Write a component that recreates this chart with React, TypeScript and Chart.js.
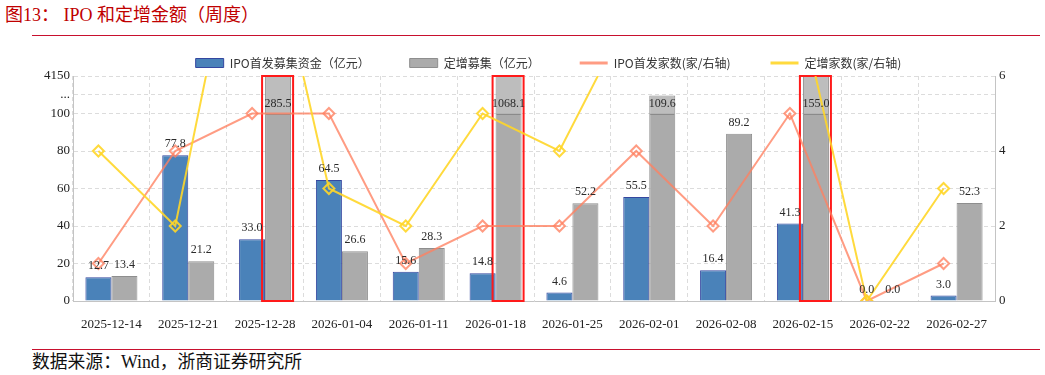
import React, { useEffect, useRef } from 'react';
import { Chart, registerables } from 'chart.js';

Chart.register(...registerables);

// ---- data ----
const CATEGORIES = [
  '2025-12-14', '2025-12-21', '2025-12-28', '2026-01-04', '2026-01-11', '2026-01-18',
  '2026-01-25', '2026-02-01', '2026-02-08', '2026-02-15', '2026-02-22', '2026-02-27',
];
const IPO_AMOUNT = [12.7, 77.8, 33.0, 64.5, 15.6, 14.8, 4.6, 55.5, 16.4, 41.3, 0.0, 3.0];
const PLACEMENT_AMOUNT = [13.4, 21.2, 285.5, 26.6, 28.3, 1068.1, 52.2, 109.6, 89.2, 155.0, 0.0, 52.3];
const IPO_COUNT = [1, 4, 5, 5, 1, 2, 2, 4, 2, 5, 0, 1];
const PLACEMENT_COUNT = [4, 2, 12, 3, 2, 5, 4, 8, 8, 9, 0, 3];
const LEFT_TICK_VALUES = [0, 20, 40, 60, 80, 100, 110, 120];
const LEFT_TICK_LABELS = ['0', '20', '40', '60', '80', '100', '...', '4150'];
const RIGHT_MAX = 6;
const RIGHT_STEP = 2;
const BREAK_VALUE = 100;
const AXIS_TOP = 120;

const SERIES_LABELS = ['IPO首发募集资金（亿元）', '定增募集（亿元）', 'IPO首发家数(家/右轴)', '定增家数(家/右轴)'];

// ---- style ----
const CATEGORY_PCT = 0.677;
const LINE_SHIFT = CATEGORY_PCT / 4;
const SERIF = '"Liberation Serif", "Times New Roman", serif';
const CJK = '"Noto Sans CJK SC", "Noto Sans", sans-serif';
const BLUE = '#4a82b9';
const BLUE_BORDER = '#3447a0';
const GRAY = '#ababab';
const GRAY_BORDER = '#8e8e8e';
const ORANGE = 'rgba(255,128,96,0.78)';
const YELLOW = 'rgba(255,214,40,0.9)';
const GRID = '#dcdcdc';
const AXIS = '#c4c4c4';
const LEGEND_PAD = 40;

const legendTweak = {
  id: 'legendTweak',
  beforeLayout(chart: any) {
    const lg = chart.legend;
    if (!lg || lg._tweaked) return;
    lg._tweaked = true;
    const fit = lg.fit.bind(lg);
    lg.fit = function () {
      fit();
      lg.height = 59;
    };
  },
};

const breakOverlay = {
  id: 'breakOverlay',
  afterDatasetDraw(chart: any, args: any) {
    if (args.index !== 0) return;
    const ctx = chart.ctx;
    const area = chart.chartArea;
    const y = chart.scales.y;
    const meta = chart.getDatasetMeta(1);
    const vals = PLACEMENT_AMOUNT;
    const yBreak = y.getPixelForValue(BREAK_VALUE);
    ctx.save();
    meta.data.forEach((bar: any, i: number) => {
      const v = vals[i];
      if (v <= BREAK_VALUE) return;
      const w = bar.width;
      const top = Math.max(bar.y, area.top);
      ctx.fillStyle = 'rgba(255,255,255,0.22)';
      ctx.fillRect(bar.x - w / 2 + 1, top + 1, w - 2, yBreak - top - 1);
      ctx.strokeStyle = '#8a8a8a';
      ctx.lineWidth = 1;
      ctx.beginPath();
      ctx.moveTo(bar.x - w / 2 + 1, Math.round(yBreak) + 0.5);
      ctx.lineTo(bar.x + w / 2 - 1, Math.round(yBreak) + 0.5);
      ctx.stroke();
      if (v > AXIS_TOP) {
        ctx.strokeStyle = '#ff1a1a';
        ctx.lineWidth = 2;
        ctx.strokeRect(bar.x - w / 2 - 3, area.top, w + 5, area.bottom - area.top);
      }
    });
    ctx.restore();
  },
};

const barLabels = {
  id: 'barLabels',
  afterDatasetsDraw(chart: any) {
    const ctx = chart.ctx;
    const y = chart.scales.y;
    ctx.save();
    ctx.font = '12px ' + SERIF;
    ctx.fillStyle = '#2a2a2a';
    ctx.textAlign = 'center';
    ctx.textBaseline = 'middle';
    [IPO_AMOUNT, PLACEMENT_AMOUNT].forEach((vals, di) => {
      const meta = chart.getDatasetMeta(di);
      meta.data.forEach((bar: any, i: number) => {
        const v = vals[i];
        const ty = v > BREAK_VALUE ? y.getPixelForValue(BREAK_VALUE) - 10 : bar.y - 11;
        ctx.fillText(v.toFixed(1), bar.x, ty);
      });
    });
    ctx.restore();
  },
};

export default function App() {
  const ref = useRef<HTMLCanvasElement | null>(null);

  useEffect(() => {
    if (!ref.current) return;
    const chart = new Chart(ref.current, {
      type: 'bar',
      data: {
        labels: CATEGORIES,
        datasets: [
          {
            type: 'bar',
            label: SERIES_LABELS[0],
            data: IPO_AMOUNT.map((v, i) => ({ x: i, y: v })),
            backgroundColor: BLUE,
            borderColor: BLUE_BORDER,
            borderWidth: 1,
            categoryPercentage: CATEGORY_PCT,
            barPercentage: 1,
            clip: 0,
            order: 2,
            xAxisID: 'xl',
            yAxisID: 'y',
          } as any,
          {
            type: 'bar',
            label: SERIES_LABELS[1],
            data: PLACEMENT_AMOUNT.map((v, i) => ({ x: i, y: v })),
            backgroundColor: GRAY,
            borderColor: GRAY_BORDER,
            borderWidth: 1,
            categoryPercentage: CATEGORY_PCT,
            barPercentage: 1,
            clip: 0,
            order: 3,
            xAxisID: 'xl',
            yAxisID: 'y',
          } as any,
          {
            type: 'line',
            label: SERIES_LABELS[2],
            data: IPO_COUNT.map((v, i) => ({ x: i - LINE_SHIFT, y: v })),
            xAxisID: 'xl',
            yAxisID: 'y1',
            borderColor: ORANGE,
            borderWidth: 2,
            pointStyle: 'rectRot',
            pointRadius: 5.5,
            pointBorderWidth: 2,
            pointBorderColor: ORANGE,
            pointBackgroundColor: 'rgba(255,255,255,0)',
            tension: 0,
            order: 1,
          } as any,
          {
            type: 'line',
            label: SERIES_LABELS[3],
            data: PLACEMENT_COUNT.map((v, i) => ({ x: i - LINE_SHIFT, y: v })),
            xAxisID: 'xl',
            yAxisID: 'y1',
            borderColor: YELLOW,
            borderWidth: 2,
            pointStyle: 'rectRot',
            pointRadius: 5.5,
            pointBorderWidth: 2,
            pointBorderColor: YELLOW,
            pointBackgroundColor: 'rgba(255,255,255,0)',
            tension: 0,
            order: 0,
          } as any,
        ],
      },
      options: {
        responsive: false,
        maintainAspectRatio: false,
        animation: false,
        layout: { padding: 0 },
        plugins: {
          tooltip: { enabled: false },
          legend: {
            display: true,
            position: 'top',
            align: 'center',
            labels: {
              usePointStyle: true,
              pointStyleWidth: 28,
              boxHeight: 9,
              padding: LEGEND_PAD,
              color: '#333',
              font: { family: CJK, size: 12 },
              generateLabels(c: any) {
                const items = (Chart.defaults.plugins.legend.labels as any).generateLabels(c);
                items.sort((a: any, b: any) => a.datasetIndex - b.datasetIndex);
                items.forEach((it: any) => {
                  const ds = c.data.datasets[it.datasetIndex];
                  if (ds.type === 'line') {
                    it.pointStyle = 'line';
                    it.strokeStyle = ds.borderColor;
                    it.lineWidth = 3;
                  } else {
                    it.pointStyle = 'rect';
                    it.lineWidth = 1;
                  }
                });
                return items;
              },
            },
          },
        },
        scales: {
          x: {
            type: 'category',
            offset: true,
            grid: { display: true, offset: true, color: GRID, drawTicks: false, lineWidth: 1 },
            border: { display: true, color: AXIS, dash: [4, 3] },
            ticks: {
              font: { family: SERIF, size: 13 },
              color: '#222',
              padding: 16,
              maxRotation: 0,
              autoSkip: false,
            },
            afterFit(s: any) {
              s.height = 46;
            },
          },
          xl: {
            type: 'linear',
            axis: 'x',
            display: false,
            offset: false,
            grid: { offset: false },
            min: -0.5,
            max: CATEGORIES.length - 0.5,
            afterBuildTicks(s: any) {
              s.ticks = CATEGORIES.map((_c, i) => ({ value: i }));
            },
          },
          y: {
            position: 'left',
            min: 0,
            max: AXIS_TOP,
            afterBuildTicks(s: any) {
              s.ticks = LEFT_TICK_VALUES.map((v) => ({ value: v }));
            },
            ticks: {
              callback: (_v: any, i: number) => LEFT_TICK_LABELS[i],
              padding: 3,
              font: { family: SERIF, size: 13 },
              color: '#222',
            },
            grid: { color: GRID, drawTicks: false, lineWidth: 1 },
            border: { display: true, color: AXIS, dash: [4, 3] },
            afterFit(s: any) {
              s.width = 73;
            },
          },
          y1: {
            position: 'right',
            min: 0,
            max: RIGHT_MAX,
            ticks: {
              stepSize: RIGHT_STEP,
              padding: 4,
              font: { family: SERIF, size: 13 },
              color: '#222',
            },
            grid: { display: false, drawTicks: false },
            border: { display: true, color: AXIS },
            afterFit(s: any) {
              s.width = 102;
            },
          },
        },
      } as any,
      plugins: [legendTweak, breakOverlay, barLabels],
    });
    return () => chart.destroy();
  }, []);

  return (
    <div
      style={{
        position: 'absolute',
        left: 0,
        top: 0,
        width: 1045,
        height: 375,
        overflow: 'hidden',
        background: '#fff',
      }}
    >
      <div
        style={{
          position: 'absolute',
          left: 5,
          top: 3,
          fontFamily: '"Liberation Serif", ' + CJK,
          fontSize: 18,
          lineHeight: '24px',
          color: '#c00000',
          whiteSpace: 'pre',
        }}
      >
        图13： IPO 和定增金额（周度）
      </div>
      <div style={{ position: 'absolute', left: 32, top: 35, width: 1008, height: 1, background: '#c8102e' }} />
      <canvas
        ref={ref}
        width={1097}
        height={330}
        style={{ position: 'absolute', left: 0, top: 17, width: 1097, height: 330 }}
      />
      <div style={{ position: 'absolute', left: 32, top: 349, width: 1008, height: 1, background: '#c8102e' }} />
      <div
        style={{
          position: 'absolute',
          left: 32,
          top: 351,
          fontFamily: '"Liberation Serif", ' + CJK,
          fontSize: 17.8,
          lineHeight: '22px',
          color: '#111',
          whiteSpace: 'pre',
        }}
      >
        数据来源：Wind，浙商证券研究所
      </div>
    </div>
  );
}
